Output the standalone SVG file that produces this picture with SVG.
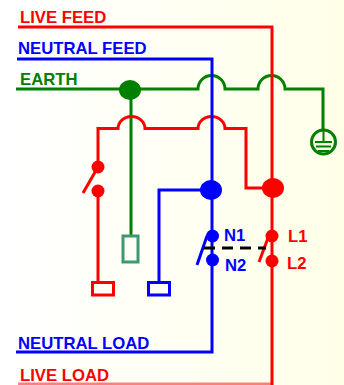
<svg xmlns="http://www.w3.org/2000/svg" width="344" height="385" viewBox="0 0 344 385">
<style>
.w{fill:none;stroke-width:3}
.r{stroke:#f00}.b{stroke:#00f}.g{stroke:#008000}
.fr{fill:#f00}.fb{fill:#00f}.fg{fill:#008000}
text{font-family:"Liberation Sans",Arial,sans-serif;font-weight:bold;font-size:16.7px}
</style>
<defs><linearGradient id="bg" x1="0" x2="1" y1="0" y2="0"><stop offset="0" stop-color="#fff"/><stop offset="1" stop-color="#ffffe8"/></linearGradient></defs>
<rect id="background" width="344" height="385" fill="url(#bg)"/>
<g id="connectors">
<path class="w g" d="M16 89H198A13.500 13.500 0 0 1 225 89H258A13.500 13.500 0 0 1 285 89H323V130"/>
<path class="w g" d="M131 89V236"/>
<path class="w r" d="M18 27H272V385"/>
<path class="w r" d="M18 384H272" stroke-opacity=".5"/>
<path class="w r" d="M98 167V128.500H118A13.500 12 0 0 1 145 128.500H198A13.500 12 0 0 1 225 128.500H246V188H272"/>
<path class="w b" d="M17 59H212V352H16"/>
<path class="w b" d="M211 190H159V282"/>
<path class="w r" d="M98 191V282"/>
<path class="w r" d="M98 167L83 193"/>
<path class="w b" d="M207 236L197 265"/>
<path class="w r" d="M268 238L259 262"/>
<path fill="none" stroke="#000" stroke-width="3" stroke-dasharray="11 7" d="M204 248H266"/>
</g>
<g id="earth-junction"><ellipse class="fg" cx="130" cy="90" rx="11" ry="10"/></g>
<g id="neutral-junction"><ellipse class="fb" cx="211" cy="190" rx="11" ry="10"/></g>
<g id="live-junction"><ellipse class="fr" cx="273" cy="188" rx="11" ry="10"/></g>
<g id="switch-left"><circle class="fr" cx="98" cy="167" r="6.500"/><circle class="fr" cx="98" cy="191" r="6.500"/></g>
<g id="n1"><circle class="fb" cx="212.500" cy="236" r="6.500"/><text x="224" y="241" class="fb">N1</text></g>
<g id="n2"><circle class="fb" cx="212.500" cy="260" r="6.500"/><text x="225" y="271" class="fb">N2</text></g>
<g id="l1"><circle class="fr" cx="272" cy="236" r="6.500"/><text x="288" y="242" class="fr">L1</text></g>
<g id="l2"><circle class="fr" cx="272" cy="261" r="6.500"/><text x="287" y="269" class="fr">L2</text></g>
<g id="live-terminal"><rect x="92.500" y="282.500" width="21" height="12.500" fill="none" stroke="#f00" stroke-width="3"/></g>
<g id="neutral-terminal"><rect x="148.500" y="282.500" width="21" height="12.500" fill="none" stroke="#00f" stroke-width="3"/></g>
<g id="earth-terminal"><rect x="123" y="236" width="15" height="26" fill="none" stroke="#3c9a6e" stroke-width="3"/></g>
<g id="earth-symbol">
<circle cx="323.500" cy="142" r="12" fill="none" stroke="#008000" stroke-width="3"/>
<path fill="none" stroke="#008000" stroke-width="2" d="M323.500 130V142M315 142H332M316 146.500H331M318 151H329"/>
</g>
<g id="labels">
<text x="20" y="23" class="fr">LIVE FEED</text>
<text x="18" y="54" class="fb">NEUTRAL FEED</text>
<text x="20" y="85" class="fg">EARTH</text>
<text x="18" y="349" class="fb">NEUTRAL LOAD</text>
<text x="20" y="381" class="fr">LIVE LOAD</text>
</g>
</svg>
